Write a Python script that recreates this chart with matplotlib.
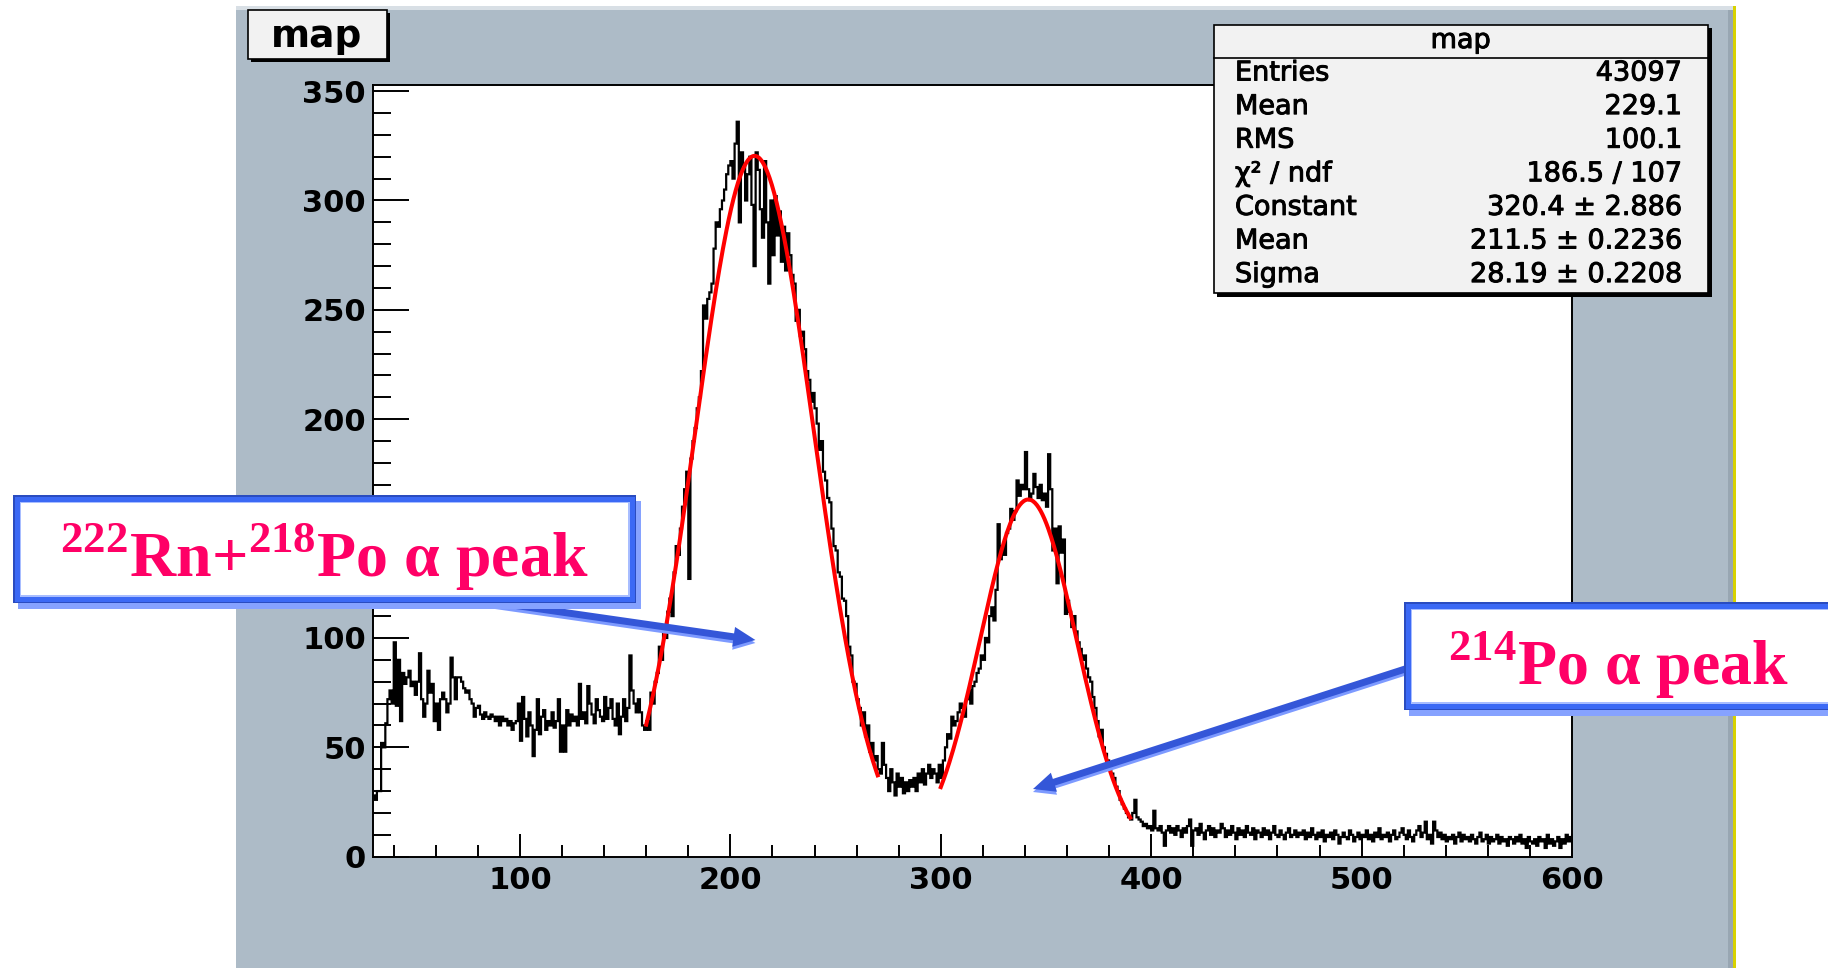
import numpy as np
import matplotlib
matplotlib.use("Agg")
import matplotlib.pyplot as plt
import matplotlib.patheffects as pe
from matplotlib.patches import Rectangle, FancyArrow
from matplotlib.ticker import MultipleLocator

# ---------------------------------------------------------------- data
# bin contents of the "map" histogram, 1-unit bins starting at x = 30
x_start = 30
counts_background = [
    28, 26, 30, 30, 52, 50, 61, 72, 76, 70,
    98, 69, 90, 62, 84, 79, 82, 85, 78, 80,
    74, 80, 93, 72, 64, 70, 85, 75, 79, 62,
    70, 58, 72, 75, 72, 66, 70, 91, 82, 72,
    82, 82, 80, 77, 75, 76, 72, 70, 64, 68,
    69, 65, 63, 66, 64, 63, 65, 64, 62, 64,
    60, 64, 62, 63, 60, 62, 58, 61, 62, 70,
    53, 73, 63, 55, 66, 60, 46, 58, 72, 56,
    64, 67, 58, 62, 60, 66, 59, 62, 72, 48,
    60, 48, 67, 60, 65, 62, 64, 60, 79, 63,
    66, 61, 78, 70, 65, 61, 72, 67, 64, 62,
    73, 63, 68, 72, 63, 60, 70, 56, 64, 72,
    62, 68, 92, 76, 70, 66, 72, 66, 60, 58,
]
counts_main_peak = [
    62, 58, 75, 70, 80, 84, 96, 90, 104, 100,
    112, 118, 110, 130, 142, 138, 150, 160, 168, 176,
    127, 182, 190, 196, 205, 210, 222, 252, 246, 255,
    258, 262, 278, 290, 288, 296, 300, 305, 312, 316,
    318, 310, 326, 336, 290, 322, 316, 300, 312, 320,
    298, 270, 322, 314, 296, 283, 318, 290, 262, 300,
    275, 302, 284, 295, 272, 288, 268, 285, 275, 266,
    262, 245, 250, 238, 240, 232, 222, 218, 208, 212,
    205, 198, 186, 190, 176, 172, 164, 162, 150, 142,
    140, 130, 128, 118, 117, 110, 96, 92, 80, 79,
    72, 68, 60, 66, 55, 60, 48, 52, 44, 46,
    40, 38, 52, 42, 36, 30, 40, 34, 28, 38,
    32, 36, 29, 34, 30, 35, 32, 36, 30, 38,
    34, 40, 33, 38, 42, 36, 40, 38, 34, 42,
]
counts_second_peak = [
    36, 44, 50, 56, 54, 64, 60, 62, 66, 70,
    68, 64, 72, 76, 70, 78, 80, 84, 86, 92,
    90, 100, 98, 110, 114, 108, 122, 152, 136, 142,
    138, 148, 150, 159, 154, 158, 172, 165, 170, 168,
    185, 168, 163, 166, 175, 169, 164, 170, 163, 166,
    160, 184, 168, 140, 150, 125, 151, 139, 145, 111,
    117, 112, 105, 110, 103, 98, 95, 90, 92, 86,
    82, 80, 73, 68, 62, 55, 58, 50, 47, 44,
    40, 38, 36, 32, 30, 26, 24, 22, 20, 18,
    17, 20, 26, 18, 17, 16, 14, 15, 13, 14,
    12, 21, 13, 12, 14, 11, 5, 12, 14, 11, 13,
]
counts_tail = [
    10, 14, 12, 9, 13, 11, 14, 17, 5, 12,
    13, 10, 15, 11, 8, 12, 14, 10, 13, 9,
    12, 11, 15, 13, 9, 12, 10, 14, 11, 8,
    13, 10, 12, 9, 14, 11, 10, 13, 8, 12,
    11, 9, 13, 10, 12, 8, 11, 14, 10, 9,
    12, 10, 8, 11, 13, 9, 10, 12, 9, 11,
    10, 12, 8, 11, 9, 13, 10, 8, 11, 9,
    12, 7, 10, 9, 11, 8, 12, 10, 6, 9,
    11, 9, 8, 12, 10, 7, 9, 11, 8, 10,
    9, 12, 8, 10, 7, 11, 9, 13, 8, 10,
    9, 11, 7, 10, 12, 8, 9, 11, 13, 10,
    8, 12, 9, 7, 10, 12, 14, 9, 11, 16,
    8, 10, 6, 16, 12, 9, 11, 8, 10, 7,
    9, 8, 10, 6, 9, 11, 7, 10, 8, 9,
    7, 10, 8, 6, 9, 11, 7, 8, 10, 6,
    9, 7, 8, 10, 6, 9, 7, 8, 5, 9,
    8, 6, 9, 7, 10, 6, 8, 4, 9, 7,
    6, 8, 5, 9, 7, 8, 4, 10, 6, 8,
    5, 7, 9, 4, 8, 6, 10, 7, 9,
]

# gaussian fits: (constant, mean, sigma, range start, range end)
fit_main = [320.4, 211.5, 28.19, 160, 270]
fit_second = [163.3, 341.6, 23.0, 300, 390]

x_major_ticks = [100, 200, 300, 400, 500, 600]
y_major_ticks = [0, 50, 100, 150, 200, 250, 300, 350]

hist_title = "map"
stats_labels = ["Entries", "Mean", "RMS", "\u03c7\u00b2 / ndf", "Constant", "Mean", "Sigma"]
stats_values = ["43097", "229.1", "100.1", "186.5 / 107",
                "320.4 \u00b1 2.886", "211.5 \u00b1 0.2236", "28.19 \u00b1 0.2208"]

label_main = r"$^{\mathbf{222}}$Rn+$^{\mathbf{218}}$Po " + "\u03b1 peak"
label_second = r"$^{\mathbf{214}}$Po " + "\u03b1 peak"

# ---------------------------------------------------------------- figure
W, H = 1828, 968
plt.rcParams["font.family"] = ["DejaVu Sans"]
plt.rcParams["mathtext.fontset"] = "custom"
plt.rcParams["mathtext.bf"] = "Liberation Serif:bold"
plt.rcParams["mathtext.rm"] = "Liberation Serif:bold"
fig = plt.figure(figsize=(W / 100, H / 100), dpi=100)
fig.patch.set_facecolor("white")


def pixel_axes(zorder):
    a = fig.add_axes([0, 0, 1, 1], zorder=zorder)
    a.set_xlim(0, W)
    a.set_ylim(H, 0)
    a.axis("off")
    a.patch.set_alpha(0)
    return a


# canvas background
bg = pixel_axes(0)
bg.add_patch(Rectangle((236, 6), 1497, H - 6, facecolor="#adbbc7", edgecolor="none"))
bg.add_patch(Rectangle((236, 6), 1497, 4, facecolor="#d8dfe5", edgecolor="none"))
bg.add_patch(Rectangle((1728, 10), 5, H - 10, facecolor="#98a6b2", edgecolor="none"))
bg.add_patch(Rectangle((1733, 6), 2.5, H - 6, facecolor="#d8d200", edgecolor="none"))

# histogram frame
left, right, bottom, top = 372.7, 1572.0, 856.7, 85.0
ax = fig.add_axes([left / W, 1 - bottom / H, (right - left) / W, (bottom - top) / H], zorder=1)
ax.set_facecolor("white")

counts = np.array(counts_background + counts_main_peak + counts_second_peak + counts_tail, dtype=float)
edges = np.arange(x_start, x_start + len(counts) + 1)
ax.stairs(counts, edges, baseline=None, color="black", lw=1.6, zorder=2)


def gauss(x, c, m, s):
    return c * np.exp(-0.5 * ((x - m) / s) ** 2)


for c, m, s, lo, hi in (fit_main, fit_second):
    xs = np.linspace(lo, hi, 200)
    ax.plot(xs, gauss(xs, c, m, s), color="#ff0000", lw=2.9, zorder=3)

ax.set_xlim(x_start, edges[-1])
ax.set_ylim(0, 1.05 * counts.max())
ax.set_xticks(x_major_ticks)
ax.set_yticks(y_major_ticks)
ax.xaxis.set_minor_locator(MultipleLocator(20))
ax.yaxis.set_minor_locator(MultipleLocator(10))
ax.tick_params(axis="y", which="major", direction="in", length=26, width=1.4, pad=5, labelsize=22)
ax.tick_params(axis="y", which="minor", direction="in", length=13, width=1.4)
ax.tick_params(axis="x", which="major", direction="in", length=16.5, width=1.4, pad=7, labelsize=22)
ax.tick_params(axis="x", which="minor", direction="in", length=8.3, width=1.4)
ax.tick_params(top=False, right=False, which="both")
for lab in ax.get_xticklabels() + ax.get_yticklabels():
    lab.set_fontweight("bold")
for sp in ax.spines.values():
    sp.set_linewidth(1.4)
    sp.set_color("black")

# ---------------------------------------------------------------- overlay
ov = pixel_axes(5)
heavy = [pe.withStroke(linewidth=0.7, foreground="black")]

# title box
ov.add_patch(Rectangle((251, 13), 139, 49, facecolor="black", edgecolor="none"))
ov.add_patch(Rectangle((248, 10), 139, 49, facecolor="#f2f2f2", edgecolor="black", lw=1.2))
ov.text(317, 47, hist_title, fontsize=27, fontweight="bold", ha="center", va="baseline")

# statistics box
sx0, sy0, sx1, sy1 = 1213.5, 24.5, 1708.0, 293.0
ov.add_patch(Rectangle((sx0 + 3.5, sy0 + 3.5), sx1 - sx0, sy1 - sy0, facecolor="black", edgecolor="none"))
ov.add_patch(Rectangle((sx0, sy0), sx1 - sx0, sy1 - sy0, facecolor="#f2f2f2", edgecolor="black", lw=1.2))
ov.plot([sx0, sx1], [57.7, 57.7], color="black", lw=1.2)
ov.text((sx0 + sx1) / 2, 48, hist_title, fontsize=19.5, ha="center", va="baseline", path_effects=heavy)
for i, (lab, val) in enumerate(zip(stats_labels, stats_values)):
    yb = 80.5 + 33.6 * i
    ov.text(1235, yb, lab, fontsize=19.5, ha="left", va="baseline", path_effects=heavy)
    ov.text(1682, yb, val, fontsize=19.5, ha="right", va="baseline", path_effects=heavy)


# arrows (drawn under the label boxes)
def arrow(x0, y0, x1, y1):
    for dy, col in ((3, "#7d9aff"), (0, "#3456d8")):
        ov.add_patch(FancyArrow(x0, y0 + dy, x1 - x0, y1 - y0, width=7, head_width=20,
                                head_length=22, length_includes_head=True,
                                facecolor=col, edgecolor="none"))


arrow(480, 600.3, 755.4, 640.0)
arrow(1430, 661.0, 1033.0, 789.0)


def label_box(x0, y0, w, h):
    ov.add_patch(Rectangle((x0 + 5, y0 + 6), w, h, facecolor="#86a2ff", edgecolor="none"))
    ov.add_patch(Rectangle((x0, y0), w, h, facecolor="#2a4cc0", edgecolor="none"))
    ov.add_patch(Rectangle((x0 + 1.5, y0 + 1.5), w - 3, h - 3, facecolor="#3b69f5", edgecolor="none"))
    ov.add_patch(Rectangle((x0 + 6.5, y0 + 6.5), w - 13, h - 13, facecolor="#a8bdff", edgecolor="none"))
    ov.add_patch(Rectangle((x0 + 8, y0 + 8), w - 16, h - 16, facecolor="white", edgecolor="none"))


label_style = dict(fontsize=46, fontweight="bold", color="#ff0066",
                   family=["Liberation Serif", "DejaVu Serif"], ha="left", va="baseline")

label_box(13, 495, 623, 108)
ov.text(60, 577, label_main, **label_style)
label_box(1404, 602, 440, 108)
ov.text(1448, 685, label_second, **label_style)

fig.savefig("out.png", dpi=100, facecolor="white")
